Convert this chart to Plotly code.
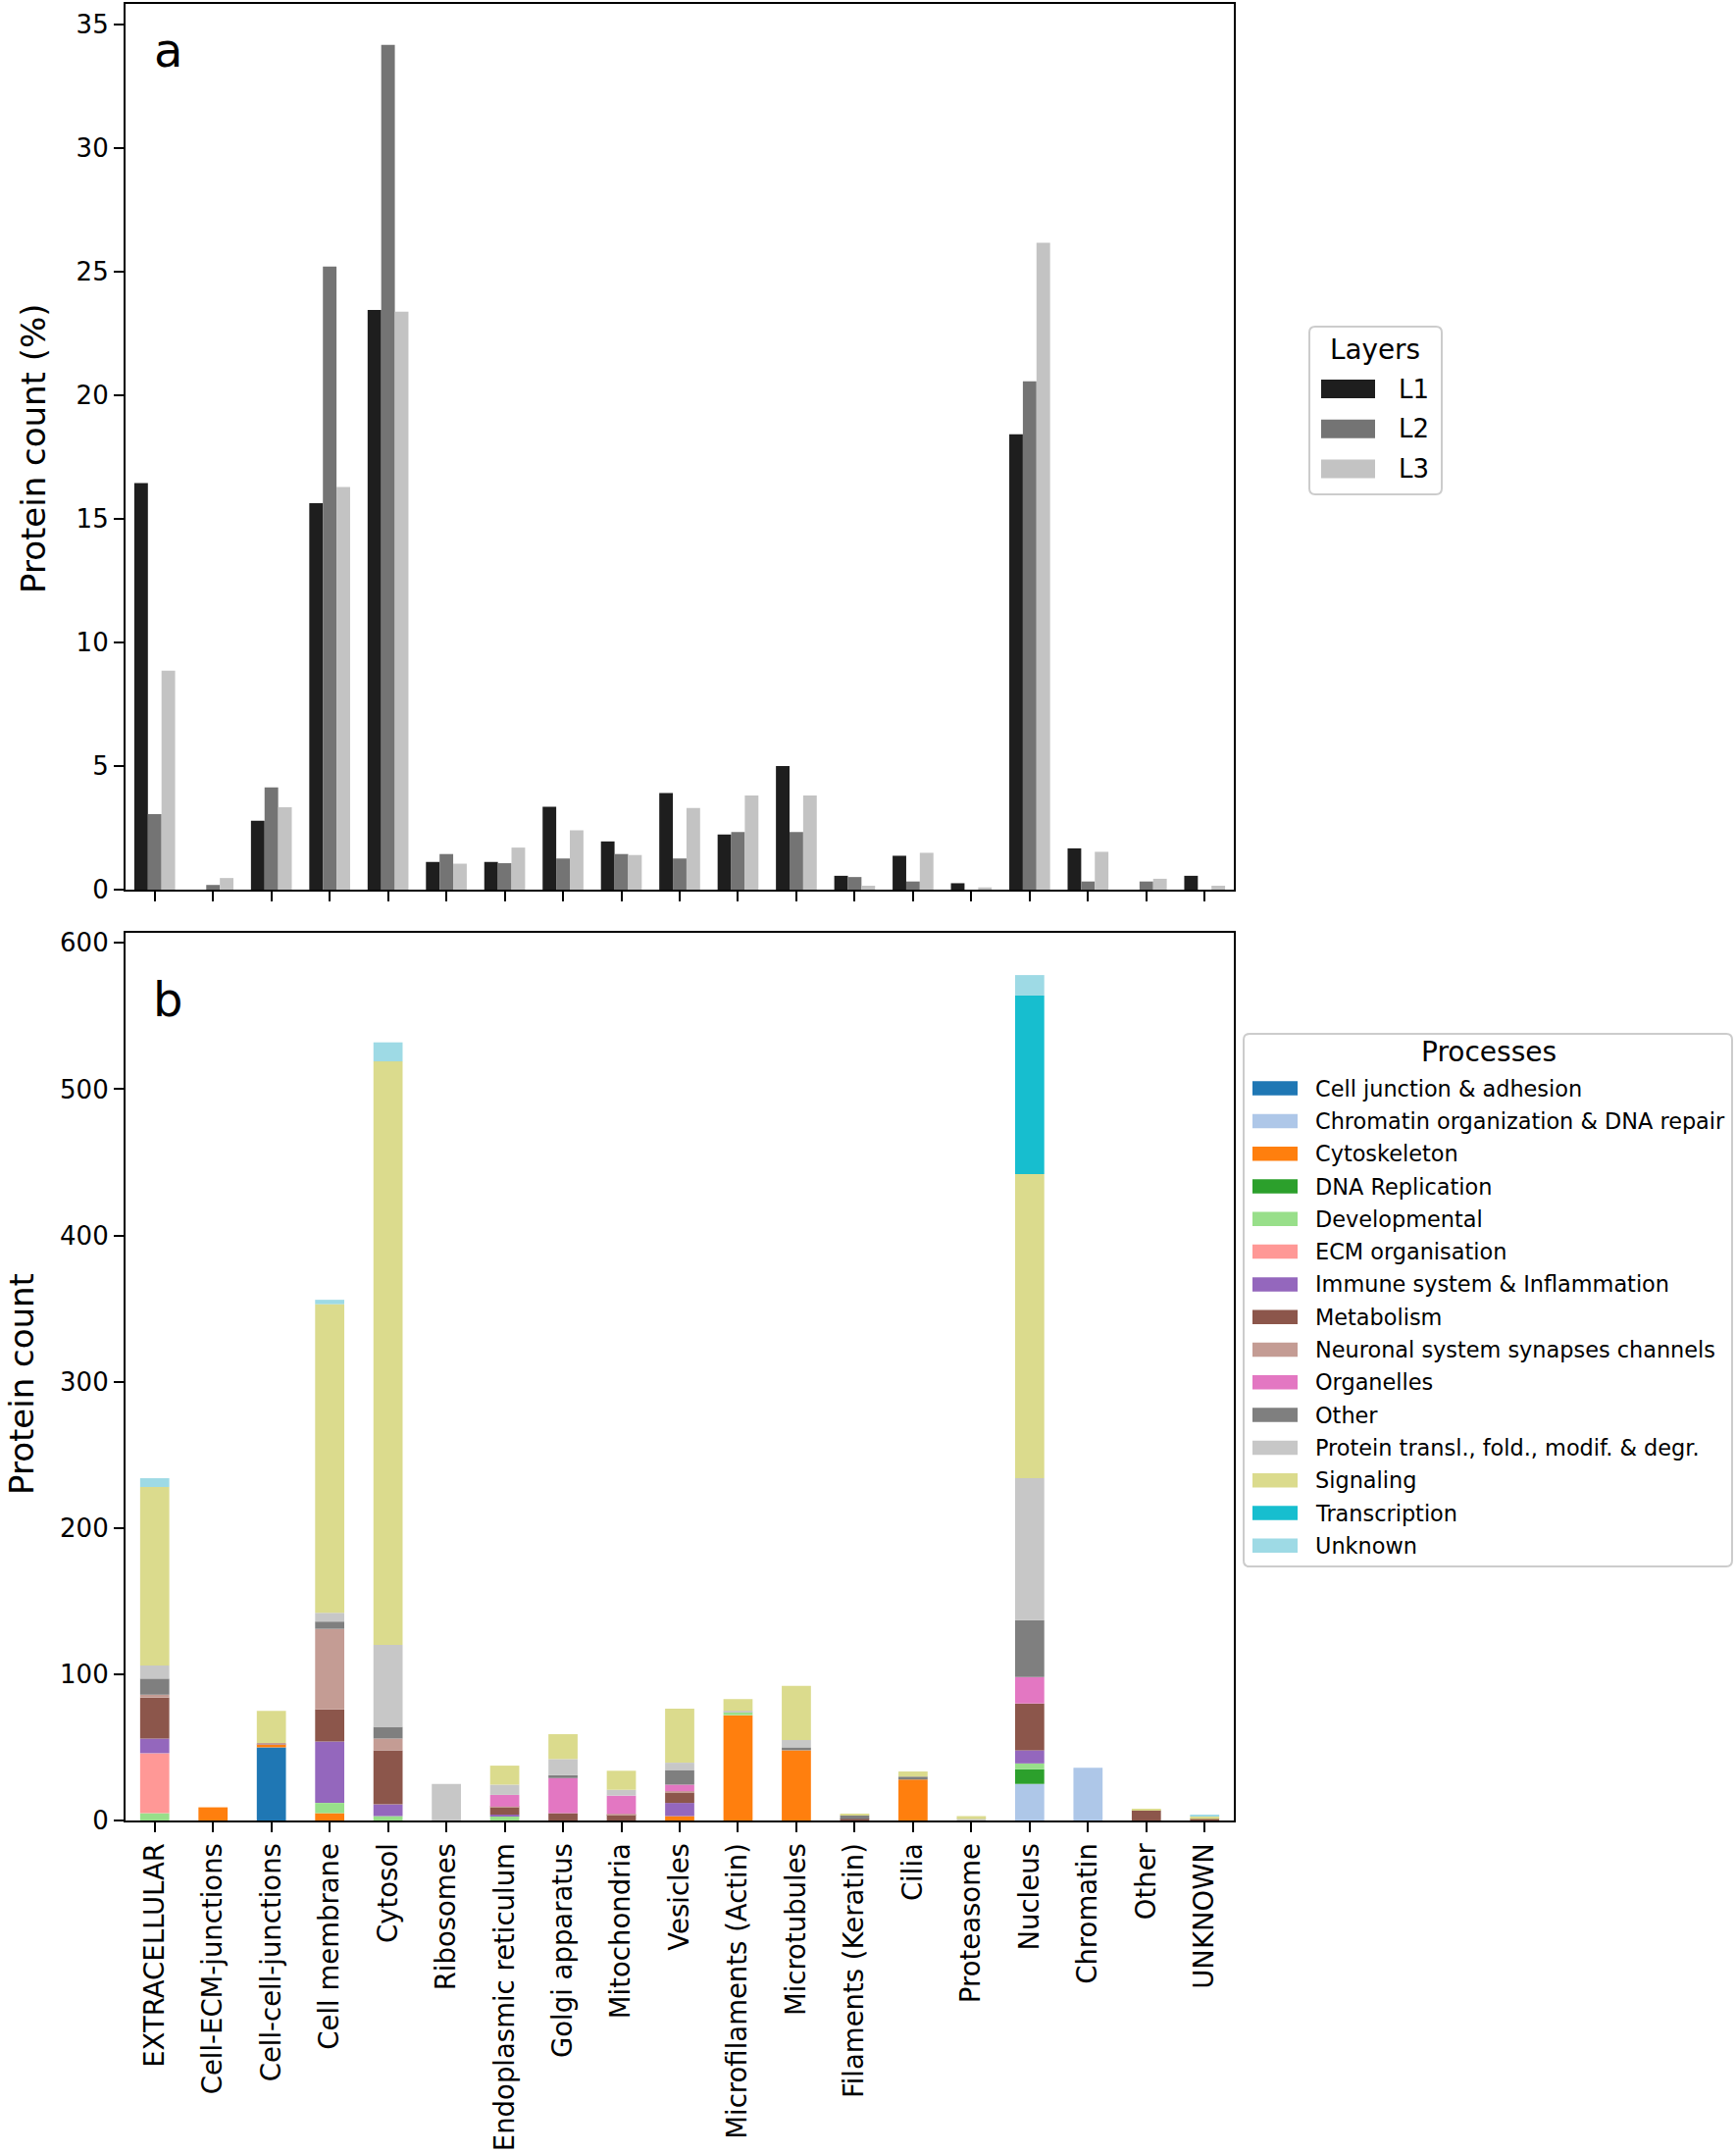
import numpy as np
import plotly.graph_objects as go

categories = ["EXTRACELLULAR", "Cell-ECM-junctions", "Cell-cell-junctions", "Cell membrane",
              "Cytosol", "Ribosomes", "Endoplasmic reticulum", "Golgi apparatus",
              "Mitochondria", "Vesicles", "Microfilaments (Actin)", "Microtubules",
              "Filaments (Keratin)", "Cilia", "Proteasome", "Nucleus", "Chromatin",
              "Other", "UNKNOWN"]

# Panel a: protein count (%) per layer
layers = ["L1", "L2", "L3"]
L1 = [16.44, 0.0, 2.79, 15.63, 23.44, 1.12, 1.12, 3.35, 1.95, 3.91, 2.23, 5.0, 0.56, 1.37, 0.26, 18.42, 1.67, 0.0, 0.56]
L2 = [3.05, 0.19, 4.14, 25.2, 34.16, 1.44, 1.07, 1.26, 1.44, 1.26, 2.33, 2.33, 0.51, 0.33, 0.0, 20.56, 0.33, 0.33, 0.0]
L3 = [8.86, 0.47, 3.33, 16.28, 23.37, 1.05, 1.70, 2.40, 1.40, 3.30, 3.81, 3.81, 0.16, 1.49, 0.09, 26.16, 1.53, 0.44, 0.16]
layer_colors = ["#1e1e1e", "#747474", "#c3c3c3"]

# Panel b: protein count per process (stacked)
processes = ["Cell junction & adhesion", "Chromatin organization & DNA repair", "Cytoskeleton",
             "DNA Replication", "Developmental", "ECM organisation",
             "Immune system & Inflammation", "Metabolism", "Neuronal system synapses channels",
             "Organelles", "Other", "Protein transl., fold., modif. & degr.", "Signaling",
             "Transcription", "Unknown"]
cell_junction = [0, 0, 50, 0, 0, 0, 0, 0, 0, 0, 0, 0, 0, 0, 0, 0, 0, 0, 0]
chromatin_org = [0, 0, 0, 0, 0, 0, 0, 0, 0, 0, 0, 0, 0, 0, 0, 25, 36, 0, 0]
cytoskeleton = [0, 9, 2, 5, 0, 0, 0, 0, 0, 3, 72, 48, 0, 28, 0, 0, 0, 0, 0]
dna_replication = [0, 0, 0, 0, 0, 0, 0, 0, 0, 0, 0, 0, 0, 0, 0, 10, 0, 0, 0]
developmental = [5, 0, 0, 7, 3, 0, 3, 0, 0, 0, 2, 0, 0, 0, 0, 4, 0, 0, 0]
ecm_organisation = [41, 0, 0, 0, 0, 0, 0, 0, 0, 0, 0, 0, 0, 0, 0, 0, 0, 0, 0]
immune = [10, 0, 0, 42, 8, 0, 1, 0, 0, 9, 0, 0, 0, 0, 0, 9, 0, 0, 0]
metabolism = [28, 0, 0, 22, 37, 0, 5, 5, 4, 7, 0, 0, 1, 0, 0, 32, 0, 7, 1]
neuronal = [2, 0, 1, 55, 8, 0, 0.5, 0, 0.5, 1, 0, 0, 0, 0, 0, 0, 0, 0, 0]
organelles = [0, 0, 0, 0, 0, 0, 8, 24, 12.5, 4.5, 0, 0, 0, 0, 0, 18, 0, 0, 0]
other_proc = [11, 0, 0, 5, 8, 0, 0, 2, 0, 10, 0, 2, 2.5, 2, 0, 39, 0, 0, 0]
protein_tfmd = [9, 0, 0, 6, 56, 25, 7, 11, 4, 5, 1, 5, 0, 0, 1, 97, 0, 0, 0]
signaling = [122, 0, 22, 211, 399, 0, 13, 17, 13, 37, 8, 37, 1, 3.5, 2, 208, 0, 1, 2]
transcription = [0, 0, 0, 0, 0, 0, 0, 0, 0, 0, 0, 0, 0, 0, 0, 122, 0, 0, 0]
unknown = [6, 0, 0, 3, 13, 0, 0, 0, 0, 0, 0, 0, 0, 0, 0, 14, 0, 0, 1]
process_colors = ["#1f77b4", "#aec7e8", "#ff7f0e", "#2ca02c", "#98df8a", "#ff9896",
                  "#9467bd", "#8c564b", "#c49c94", "#e377c2", "#7f7f7f", "#c7c7c7",
                  "#dbdb8d", "#17becf", "#9edae5"]
process_values = [cell_junction, chromatin_org, cytoskeleton, dna_replication, developmental,
                  ecm_organisation, immune, metabolism, neuronal, organelles, other_proc,
                  protein_tfmd, signaling, transcription, unknown]

FONT = "DejaVu Sans"
W, H = 1770, 2195


def PX(x):
    return x / W


def PY(y):
    return 1 - y / H


fig = go.Figure()

# Panel a grouped bars
for name, vals, col in zip(layers, [L1, L2, L3], layer_colors):
    fig.add_trace(go.Bar(x=categories, y=vals, name=name, offsetgroup=name,
                         marker=dict(color=col, line=dict(width=0)),
                         xaxis="x", yaxis="y", showlegend=False))

# Panel b stacked bars
base = np.zeros(len(categories))
for name, vals, col in zip(processes, process_values, process_colors):
    v = np.array(vals, dtype=float)
    fig.add_trace(go.Bar(x=categories, y=v, base=base.copy(), name=name, offsetgroup="stack",
                         width=0.5, marker=dict(color=col, line=dict(width=0)),
                         xaxis="x2", yaxis="y2", showlegend=False))
    base = base + v

xdom = [PX(128), PX(1258)]
A_TOP = 4
ydom_a = [PY(907), PY(A_TOP)]
ydom_b = [PY(1856), PY(951)]
ya_top = (907 - A_TOP) / 25.21

axis_common = dict(showline=True, linecolor="black", linewidth=2.2, mirror=True,
                   ticks="outside", ticklen=10, tickwidth=2.2, tickcolor="black",
                   showgrid=False, zeroline=False, automargin=False,
                   tickfont=dict(family=FONT, size=26, color="black"))

# ---- manual legends (wide patches like the original) ----
shapes = []
annotations = []


def rounded_box(x0, y0, x1, y1, r=6):
    xs = PX
    ys = PY
    p = (f"M {xs(x0 + r)} {ys(y0)} L {xs(x1 - r)} {ys(y0)} Q {xs(x1)} {ys(y0)} {xs(x1)} {ys(y0 + r)} "
         f"L {xs(x1)} {ys(y1 - r)} Q {xs(x1)} {ys(y1)} {xs(x1 - r)} {ys(y1)} "
         f"L {xs(x0 + r)} {ys(y1)} Q {xs(x0)} {ys(y1)} {xs(x0)} {ys(y1 - r)} "
         f"L {xs(x0)} {ys(y0 + r)} Q {xs(x0)} {ys(y0)} {xs(x0 + r)} {ys(y0)} Z")
    return dict(type="path", path=p, xref="paper", yref="paper",
                fillcolor="white", line=dict(color="#cccccc", width=2), layer="above")


def add_legend(box, title, title_xy, title_size, names, colors, patch_x, first_y, step,
               patch_h, text_x, text_size):
    shapes.append(rounded_box(*box))
    annotations.append(dict(text=title, x=PX(title_xy[0]), y=PY(title_xy[1]), xref="paper",
                            yref="paper", showarrow=False, xanchor="center", yanchor="middle",
                            font=dict(family=FONT, size=title_size, color="black")))
    for i, (nm, col) in enumerate(zip(names, colors)):
        cy = first_y + i * step
        shapes.append(dict(type="rect", xref="paper", yref="paper",
                           x0=PX(patch_x[0]), x1=PX(patch_x[1]),
                           y0=PY(cy + patch_h / 2), y1=PY(cy - patch_h / 2),
                           fillcolor=col, line=dict(width=0), layer="above"))
        annotations.append(dict(text=nm, x=PX(text_x), y=PY(cy), xref="paper", yref="paper",
                                showarrow=False, xanchor="left", yanchor="middle",
                                font=dict(family=FONT, size=text_size, color="black")))


add_legend((1335, 333, 1470, 504), "Layers", (1402, 356), 27.8, layers, layer_colors,
           (1347, 1402), 396.5, 40.8, 19, 1424, 26)
add_legend((1268, 1054, 1766, 1597), "Processes", (1518, 1073), 28, processes, process_colors,
           (1277, 1323), 1109.6, 33.3, 14.5, 1339, 22.4)

annotations.append(dict(text="a", x=PX(171), y=PY(51), xref="paper", yref="paper",
                        showarrow=False, xanchor="center", yanchor="middle",
                        font=dict(family=FONT, size=48, color="black")))
annotations.append(dict(text="b", x=PX(171), y=PY(1019), xref="paper", yref="paper",
                        showarrow=False, xanchor="center", yanchor="middle",
                        font=dict(family=FONT, size=48, color="black")))
# y-axis titles
annotations.append(dict(text="Protein count (%)", x=PX(34), y=PY(457), xref="paper", yref="paper",
                        showarrow=False, xanchor="center", yanchor="middle", textangle=-90,
                        font=dict(family=FONT, size=34, color="black")))
annotations.append(dict(text="Protein count", x=0, y=PY(1411), xref="paper", yref="paper",
                        showarrow=False, xanchor="left", yanchor="middle", textangle=-90,
                        font=dict(family=FONT, size=34, color="black")))

fig.update_layout(
    width=W, height=H,
    margin=dict(l=0, r=0, t=0, b=0),
    paper_bgcolor="white", plot_bgcolor="white",
    font=dict(family=FONT, color="black"),
    showlegend=False,
    barmode="group", bargap=0.3, bargroupgap=0,
    xaxis=dict(domain=xdom, anchor="y", type="category", categoryorder="array",
               categoryarray=categories, range=[-0.5, 18.5], showticklabels=False,
               **axis_common),
    yaxis=dict(domain=ydom_a, anchor="x", range=[0, ya_top], tickvals=list(range(0, 36, 5)),
               **axis_common),
    xaxis2=dict(domain=xdom, anchor="y2", type="category", categoryorder="array",
                categoryarray=categories, range=[-0.5, 18.5], tickangle=-90,
                **{**axis_common, "tickfont": dict(family=FONT, size=27.5, color="black")}),
    yaxis2=dict(domain=ydom_b, anchor="x2", range=[0, 606.9], tickvals=list(range(0, 601, 100)),
                **axis_common),
    shapes=shapes,
    annotations=annotations,
)

fig.write_html("out.html",
               config={"displayModeBar": False},
               post_script="document.body.style.margin='0';"
                           "document.body.style.overflow='hidden';"
                           "document.documentElement.style.overflow='hidden';")
